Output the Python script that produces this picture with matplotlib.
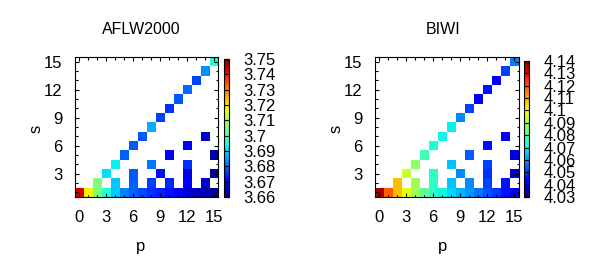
import numpy as np
import matplotlib
matplotlib.use("Agg")
import matplotlib.pyplot as plt
from matplotlib.ticker import MultipleLocator, FuncFormatter

plt.rcParams['font.family'] = ['Liberation Sans', 'DejaVu Sans']
plt.rcParams['font.size'] = 11

# cells: row s = 1..15, p = multiples of s up to 15 (row s=1 also has p=0)
s_max = 15
p_max = 15

# values listed row by row, s = 1 first
aflw_vals = [
    3.743, 3.7185, 3.7055, 3.695, 3.689, 3.6825, 3.680, 3.6776,
    3.6755, 3.674, 3.6727, 3.670, 3.6675, 3.6656, 3.6638, 3.6625,   # s=1
    3.7055, 3.689, 3.680, 3.677, 3.6745, 3.6705, 3.666,              # s=2
    3.691, 3.679, 3.673, 3.668, 3.663,                               # s=3
    3.6925, 3.682, 3.6755,                                           # s=4
    3.680, 3.670, 3.663,                                             # s=5
    3.679, 3.671,                                                    # s=6
    3.679, 3.666,                                                    # s=7
    3.6868, 3.677, 3.6755, 3.679, 3.681, 3.677, 3.684, 3.695,        # s=8..15
]
biwi_vals = [
    4.136, 4.119, 4.108, 4.0995, 4.090, 4.0813, 4.075, 4.0705,
    4.067, 4.0635, 4.0605, 4.0565, 4.053, 4.0495, 4.0455, 4.041,     # s=1
    4.108, 4.090, 4.075, 4.065, 4.059, 4.051, 4.0455,                # s=2
    4.095, 4.075, 4.059, 4.049, 4.037,                               # s=3
    4.088, 4.0644, 4.051,                                            # s=4
    4.077, 4.054, 4.039,                                             # s=5
    4.072, 4.0455,                                                   # s=6
    4.0707, 4.0405,                                                  # s=7
    4.0696, 4.0584, 4.051, 4.043, 4.0455, 4.043, 4.051, 4.0575,      # s=8..15
]
aflw_range = (3.66, 3.75)
biwi_range = (4.03, 4.14)

cell_p = []
cell_s = []
for s in range(1, s_max + 1):
    start = 0 if s == 1 else s
    for p in range(start, p_max + 1, s):
        cell_p.append(p)
        cell_s.append(s)


def make_grid(vals):
    grid = np.full((s_max, p_max + 1), np.nan)
    for p, s, v in zip(cell_p, cell_s, vals):
        grid[s - 1, p] = v
    return grid


def fmt(v, _):
    return f"{round(v, 2):g}"


fig = plt.figure(figsize=(6, 2.6), dpi=100)

panels = [
    ("AFLW2000", aflw_vals, aflw_range, 74.5, 224, 59, 141),
    ("BIWI", biwi_vals, biwi_range, 374.5, 524, 61, 443),
]

for title, vals, (vmin, vmax), ax_x, cb_x, cb_top, title_x in panels:
    ax = fig.add_axes([ax_x / 600, 63 / 260, 144 / 600, 140 / 260])
    im = ax.imshow(make_grid(vals), origin='lower', cmap='jet',
                   vmin=vmin, vmax=vmax, interpolation='nearest',
                   extent=(-0.5, p_max + 0.5, 0.5, s_max + 0.5), aspect='auto')
    ax.set_xlim(-0.5, p_max + 0.5)
    ax.set_ylim(0.5, s_max + 0.5)
    ax.xaxis.set_major_locator(MultipleLocator(3))
    ax.xaxis.set_minor_locator(MultipleLocator(1))
    ax.set_yticks([3, 6, 9, 12, 15])
    ax.yaxis.set_minor_locator(MultipleLocator(1))
    ax.tick_params(which='both', direction='in', top=True, right=True, width=0.8)
    ax.tick_params(which='major', length=3, labelsize=12)
    ax.tick_params(which='minor', length=1.8)
    ax.tick_params(axis='x', pad=9.5)
    ax.tick_params(axis='y', pad=8.5)
    for sp in ax.spines.values():
        sp.set_linewidth(0.8)

    cax = fig.add_axes([(cb_x - 0.5) / 600, 63 / 260, 5.5 / 600, (197 - cb_top) / 260])
    cb = fig.colorbar(im, cax=cax,
                      ticks=np.round(np.arange(vmin, vmax + 0.005, 0.01), 2))
    cb.ax.yaxis.set_major_formatter(FuncFormatter(fmt))
    cb.ax.tick_params(direction='in', length=2, width=0.8, pad=10.5,
                      left=True, right=True, labelsize=12)
    cb.outline.set_linewidth(0.8)

    fig.text(title_x / 600, 1 - 34 / 260, title, ha='center', va='baseline',
             fontsize=11.5)
    fig.text((ax_x - 38.5) / 600, 1 - 129 / 260, 's', rotation=90,
             ha='center', va='center', fontsize=12)
    fig.text(title_x / 600, 1 - 251 / 260, 'p', ha='center', va='baseline',
             fontsize=12)

fig.savefig("out.png", dpi=100)
